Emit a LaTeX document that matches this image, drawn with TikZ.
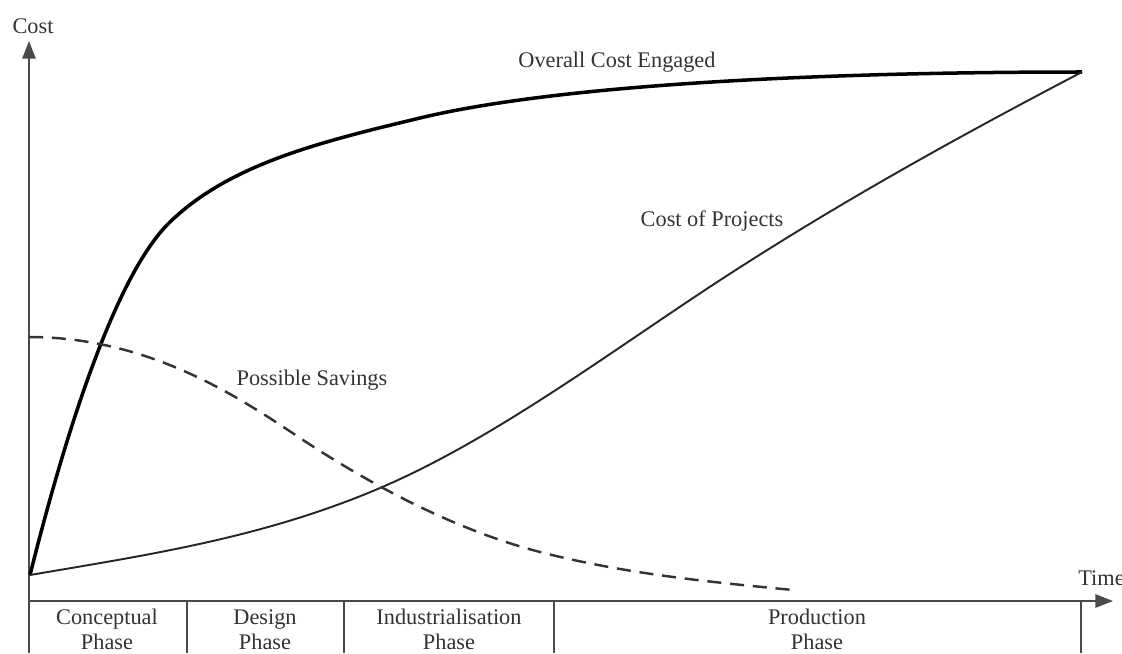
\documentclass[tikz,border=0pt]{standalone}
\usepackage{fontspec}
\setmainfont{Liberation Serif}
\usetikzlibrary{arrows.meta}
\definecolor{ink}{HTML}{333333}
\definecolor{axisgray}{HTML}{4A4A4A}
\tikzset{
  axisline/.style={draw=axisgray, line width=1.2pt},
  divider/.style={draw=axisgray, line width=1.1pt},
  lbl/.style={text=ink, font=\fontsize{12.7}{14.2}\selectfont, inner sep=0pt},
  phaselbl/.style={lbl, align=center, anchor=north},
  engaged/.style={draw=black, line width=2pt, line join=round},
  projects/.style={draw=black!85, line width=1.1pt, line join=round},
  savings/.style={draw=black!80, line width=1.4pt, dash pattern=on 8pt off 5pt}
}
\begin{document}
\begin{tikzpicture}[x=0.02cm, y=-0.02cm]
  \useasboundingbox (0,0) rectangle (1122,653);

  % key points
  \coordinate (O) at (30,575);
  \coordinate (E) at (1082,72);
  \coordinate (S0) at (29,337);
  \coordinate (S1) at (793,590);
  \coordinate (ytop) at (29,41);
  \coordinate (ybot) at (29,653);
  \coordinate (xl) at (28,601);
  \coordinate (xr) at (1113,601);

  % axes
  \draw[axisline, -{Triangle[length=10pt,width=7.5pt]}] (ybot) -- (ytop);
  \draw[axisline, -{Triangle[length=10pt,width=7.5pt]}] (xl) -- (xr);
  \node[lbl] (costlbl) at (33,26) {Cost};
  \node[lbl, anchor=west] (timelbl) at (1078,578) {Time};

  % phase strip
  \foreach \px/\nm in {187/d1, 344/d2, 554/d3, 1081/d4} {
    \coordinate (\nm t) at (\px,601);
    \coordinate (\nm b) at (\px,653);
    \draw[divider] (\nm t) -- (\nm b);
  }
  \node[phaselbl] (ph1) at (107,609) {Conceptual\\Phase};
  \node[phaselbl] (ph2) at (265,609) {Design\\Phase};
  \node[phaselbl] (ph3) at (449,609) {Industrialisation\\Phase};
  \node[phaselbl] (ph4) at (817,609) {Production\\Phase};

  % overall cost engaged
  \coordinate (e1) at (170,222);
  \coordinate (e2) at (420,118);
  \draw[engaged] (O) .. controls (65,435) and (115,275) .. (e1)
                     .. controls (230,164) and (320,142) .. (e2)
                     .. controls (570,82) and (850,72) .. (E);

  % cost of projects
  \coordinate (p1) at (380,488);
  \coordinate (p2) at (690,300);
  \draw[projects] (O) .. controls (147,555) and (263,538) .. (p1)
                      .. controls (483,444) and (587,369) .. (p2)
                      .. controls (820,213) and (952,140) .. (E);

  % possible savings
  \coordinate (s1) at (300,438);
  \coordinate (s2) at (544,553);
  \draw[savings] (S0) .. controls (150,337) and (240,398) .. (s1)
                      .. controls (380,491) and (464,533) .. (s2)
                      .. controls (627,574) and (710,582) .. (S1);

  % curve labels
  \node[lbl] (engagedlbl) at (617,62) {Overall Cost Engaged};
  \node[lbl] (projlbl) at (712,221) {Cost of Projects};
  \node[lbl] (savlbl) at (312,380) {Possible Savings};
\end{tikzpicture}
\end{document}
